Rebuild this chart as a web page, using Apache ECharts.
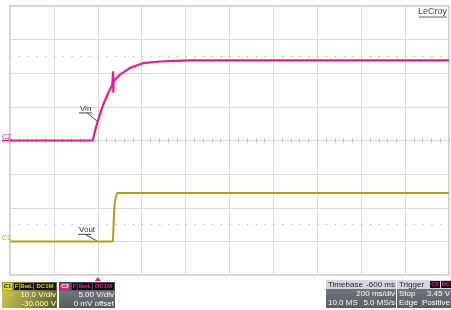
<!DOCTYPE html>
<html>
<head>
<meta charset="utf-8">
<script src="https://cdn.jsdelivr.net/npm/echarts@6/dist/echarts.min.js"></script>
<style>
html, body { margin: 0; padding: 0; background: #fff; }
#chart { width: 451px; height: 310px; }
</style>
</head>
<body>
<div id="chart"></div>
<script>
// Vin (C2, 5 V/div) - time in ms from trigger
const vinTime = [-400, -23, -13, 2, 25, 48, 66, 69, 70, 71, 72, 78, 101, 147, 206, 283, 352, 420, 1600]
const vinVolt = [0, 0, 1.4, 3.1, 5.4, 7.1, 8.3, 8.5, 10.3, 7.1, 8.7, 9.0, 9.8, 10.8, 11.5, 11.75, 11.85, 11.9, 11.9]

// Vout (C1, 10 V/div, -30 V offset)
const voutTime = [-400, 68, 70, 72, 74, 76, 80, 85, 89, 1600]
const voutVolt = [0, 0, 2, 5, 8, 10.5, 12.5, 13.8, 14.4, 14.4]

// readouts under the screen
const c1Info = ['C1', '10.0 V/div', '-30.000 V']
const c2Info = ['C2', '5.00 V/div', '0 mV offset']
const tbInfo = ['Timebase', '-600 ms', '200 ms/div', '10.0 MS', '5.0 MS/s']
const trigInfo = ['Trigger', 'Stop', '3.45 V', 'Edge', 'Positive']

const PINK = '#ec1a82'
const OLIVE = '#a9a718'
const GRIDC = '#dcdcdc'
const FONT = 'Liberation Sans'

const myChart = echarts.init(document.getElementById('chart'), null, { renderer: 'canvas' })

const pairs = (xs, ys) => xs.map((x, i) => [x, ys[i]])

//中心横线刻度
const centerX = (inside) => ({
    type: 'value', min: -400, max: 1600, interval: 200, position: 'bottom',
    axisLine: { show: true, onZero: true, onZeroAxisIndex: 1, lineStyle: { color: GRIDC } },
    axisTick: { show: true, inside: inside, length: 2, lineStyle: { color: '#bdbdbd' } },
    minorTick: { show: true, splitNumber: 5, length: 2, lineStyle: { color: '#bdbdbd' } },
    axisLabel: { show: false }, splitLine: { show: false },
})

myChart.setOption({
    animation: false,
    backgroundColor: '#fff',
    grid: { left: 10, right: 2, top: 6, bottom: 35, show: true, borderColor: '#d2d2d2', borderWidth: 2 },
    xAxis: [
        {
            type: 'value', min: -400, max: 1600, interval: 200, position: 'top',
            axisLine: { show: false, onZero: false }, axisTick: { show: false }, axisLabel: { show: false },
            splitLine: { show: true, lineStyle: { color: GRIDC, width: 1 } },
        },
        centerX(true),
        centerX(false),
    ],
    yAxis: [
        {
            type: 'value', min: -10, max: 70, interval: 10, position: 'left',
            axisLine: { show: false, onZero: false }, axisTick: { show: false }, axisLabel: { show: false },
            splitLine: { show: true, lineStyle: { color: GRIDC, width: 1 } },
        },
        {
            type: 'value', min: -20, max: 20, interval: 5, position: 'right',
            axisLine: { show: false, onZero: false }, axisTick: { show: false }, axisLabel: { show: false },
            splitLine: { show: false },
        },
    ],
    series: [
        {
            name: 'Vout', type: 'line', xAxisIndex: 0, yAxisIndex: 0,
            data: pairs(voutTime, voutVolt), showSymbol: false,
            lineStyle: { color: OLIVE, width: 2 }, z: 3,
        },
        {
            name: 'Vin', type: 'line', xAxisIndex: 0, yAxisIndex: 1,
            data: pairs(vinTime, vinVolt), showSymbol: false,
            lineStyle: { color: PINK, width: 2.2 }, z: 4,
            markLine: {
                silent: true, symbol: 'none', label: { show: false },
                lineStyle: { color: '#b5b5b5', type: [1.2, 7.58], width: 1 },
                data: [{ yAxis: 12.5 }, { yAxis: -12.5 }],
            },
        },
    ],
})

/* 标注与读数框 */
const px2 = (t, v) => myChart.convertToPixel({ xAxisIndex: 0, yAxisIndex: 1 }, [t, v])
const px1 = (t, v) => myChart.convertToPixel({ xAxisIndex: 0, yAxisIndex: 0 }, [t, v])

const g = []
const line = (a, b, color, w) => g.push({ type: 'line', shape: { x1: a[0], y1: a[1], x2: b[0], y2: b[1] }, style: { stroke: color, lineWidth: w || 1 }, silent: true })
const text = (x, y, s, opt) => g.push({
    type: 'text', x: x, y: y, silent: true, z: 20,
    style: Object.assign({ text: s, fill: '#333', font: '8px "' + FONT + '"', textAlign: 'left', textVerticalAlign: 'middle' }, opt || {}),
})
const rect = (x, y, w, h, fill, r) => g.push({ type: 'rect', shape: { x: x, y: y, width: w, height: h, r: r || 0 }, style: { fill: fill }, silent: true, z: 10 })
const grad = (c0, c1, diag) => new echarts.graphic.LinearGradient(0, 0, diag ? 1 : 0, 1, [{ offset: 0, color: c0 }, { offset: 1, color: c1 }])

// Vin label
let a = px2(-86, 4.1), b = px2(-26, 4.1)
line(a, b, '#444')
line(px2(-49, 4.1), px2(-4, 2.9), '#444')
text(a[0] + 1, a[1] - 4.5, 'Vin')

// Vout label
a = px1(-90, 2.1); b = px1(-31, 2.1)
line(a, b, '#444')
line(px1(-58, 2.1), px1(-1, 0), '#444')
text(a[0] + 1, a[1] - 4.5, 'Vout')

// channel ground markers
let c = px2(-400, 0)
text(c[0] - 8, c[1] - 3.5, 'C2', { fill: PINK, font: '7px "' + FONT + '"' })
line([c[0] - 8, c[1]], [c[0], c[1]], PINK, 1.5)
c = px1(-400, 0)
text(c[0] - 8, c[1] - 3.5, 'C1', { fill: OLIVE, font: '7px "' + FONT + '"' })

// trigger position marker
c = px2(0, -20)
g.push({ type: 'polygon', shape: { points: [[c[0], c[1] + 2], [c[0] - 3, c[1] + 6], [c[0] + 3, c[1] + 6]] }, style: { fill: PINK }, silent: true })

// LeCroy
text(447, 12, 'LeCroy', { textAlign: 'right', fill: '#444', font: '9px "' + FONT + '"' })
line([419, 17], [447, 17], '#666')

// badge helper
const badge = (x, y, w, s, bg, fg) => {
    rect(x, y, w, 7, bg)
    text(x + w / 2, y + 3.7, s, { textAlign: 'center', fill: fg, font: 'bold 6px "' + FONT + '"', })
}
const white = (x, y, s, al) => text(x, y, s, { fill: '#fff', textAlign: al || 'right' })

// C1 box
rect(2, 282, 55, 26, grad('#d2d058', '#5c5b22', true))
rect(2, 282, 55, 8.5, 'rgba(60,60,10,0.35)')
badge(3, 283, 9, c1Info[0], '#e2e000', '#222')
badge(14, 283, 5, 'F', '#111', '#d8d600')
badge(20, 283, 13, 'BwL', '#111', '#d8d600')
badge(34, 283, 22, 'DC1M', '#111', '#d8d600')
white(56, 295, c1Info[1])
white(56, 303.5, c1Info[2])

// C2 box
rect(59, 282, 56, 26, grad('#7f848b', '#555a61'))
rect(59, 282, 56, 8.5, '#474b52')
badge(60, 283, 10, c2Info[0], PINK, '#fff')
badge(72, 283, 5, 'F', '#111', PINK)
badge(78, 283, 14, 'BwL', '#111', PINK)
badge(93, 283, 21, 'DC1M', '#111', PINK)
white(114, 295, c2Info[1])
white(114, 303.5, c2Info[2])

// Timebase box
rect(326, 280, 70, 28, grad('#7a7f86', '#595e65'))
rect(326, 280, 70, 9, '#d4d7db')
text(328, 284.7, tbInfo[0], { fill: '#222' })
text(395, 284.7, tbInfo[1], { fill: '#222', textAlign: 'right' })
white(395, 294, tbInfo[2])
white(328, 303, tbInfo[3], 'left')
white(395, 303, tbInfo[4])

// Trigger box
rect(397, 280, 54, 28, grad('#7a7f86', '#595e65'))
rect(397, 280, 54, 9, '#d4d7db')
text(399, 284.7, trigInfo[0], { fill: '#222' })
badge(430, 281, 10, 'C2', '#111', PINK)
badge(441, 281, 10, 'DC', '#111', PINK)
white(399, 294, trigInfo[1], 'left')
white(450, 294, trigInfo[2])
white(399, 303, trigInfo[3], 'left')
white(450, 303, trigInfo[4])

myChart.setOption({ graphic: { elements: g } })
</script>
</body>
</html>
